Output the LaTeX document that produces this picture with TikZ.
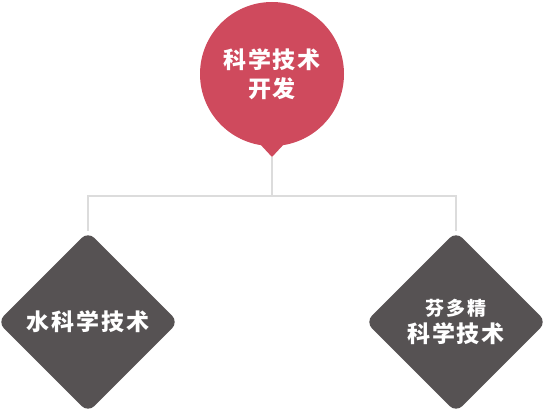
\documentclass[tikz,border=0pt]{standalone}
\usepackage{fontspec}
\newfontfamily\cjk{Noto Sans CJK SC}[LetterSpace=8]
\usetikzlibrary{shapes.geometric,backgrounds}
\definecolor{topred}{HTML}{CF4A5D}
\definecolor{darkbox}{HTML}{565253}
\definecolor{linegray}{HTML}{DCDCDC}
\tikzset{
  bubble/.style={circle,fill=topred,minimum size=144pt,inner sep=0pt,text=white,align=center,font=\cjk\bfseries\fontsize{23}{29}\selectfont},
  dbox/.style={diamond,aspect=1,fill=darkbox,rounded corners=9pt,minimum width=181pt,minimum height=181pt,inner sep=0pt,text=white,align=center,font=\cjk\bfseries\fontsize{23}{27}\selectfont},
  conn/.style={draw=linegray,line width=2pt},
}
\begin{document}
\begin{tikzpicture}[x=1pt,y=-1pt]
\useasboundingbox (0,0) rectangle (544,409);
\node[bubble] (top) at (272,74) {科学技术\\开发};
\fill[topred] (259,143) -- (285,143) -- (272,157) coordinate (tip) -- cycle;
\node[dbox] (ld) at (88,322) {水科学技术};
\node[dbox] (rd) at (456,322) {{\fontsize{19}{27}\selectfont 芬多精}\\科学技术};
\coordinate (j) at (272,196);
\begin{scope}[on background layer]
\draw[conn] (tip) -- (j) -| (ld.north);
\draw[conn] (j) -| (rd.north);
\end{scope}
\end{tikzpicture}
\end{document}
